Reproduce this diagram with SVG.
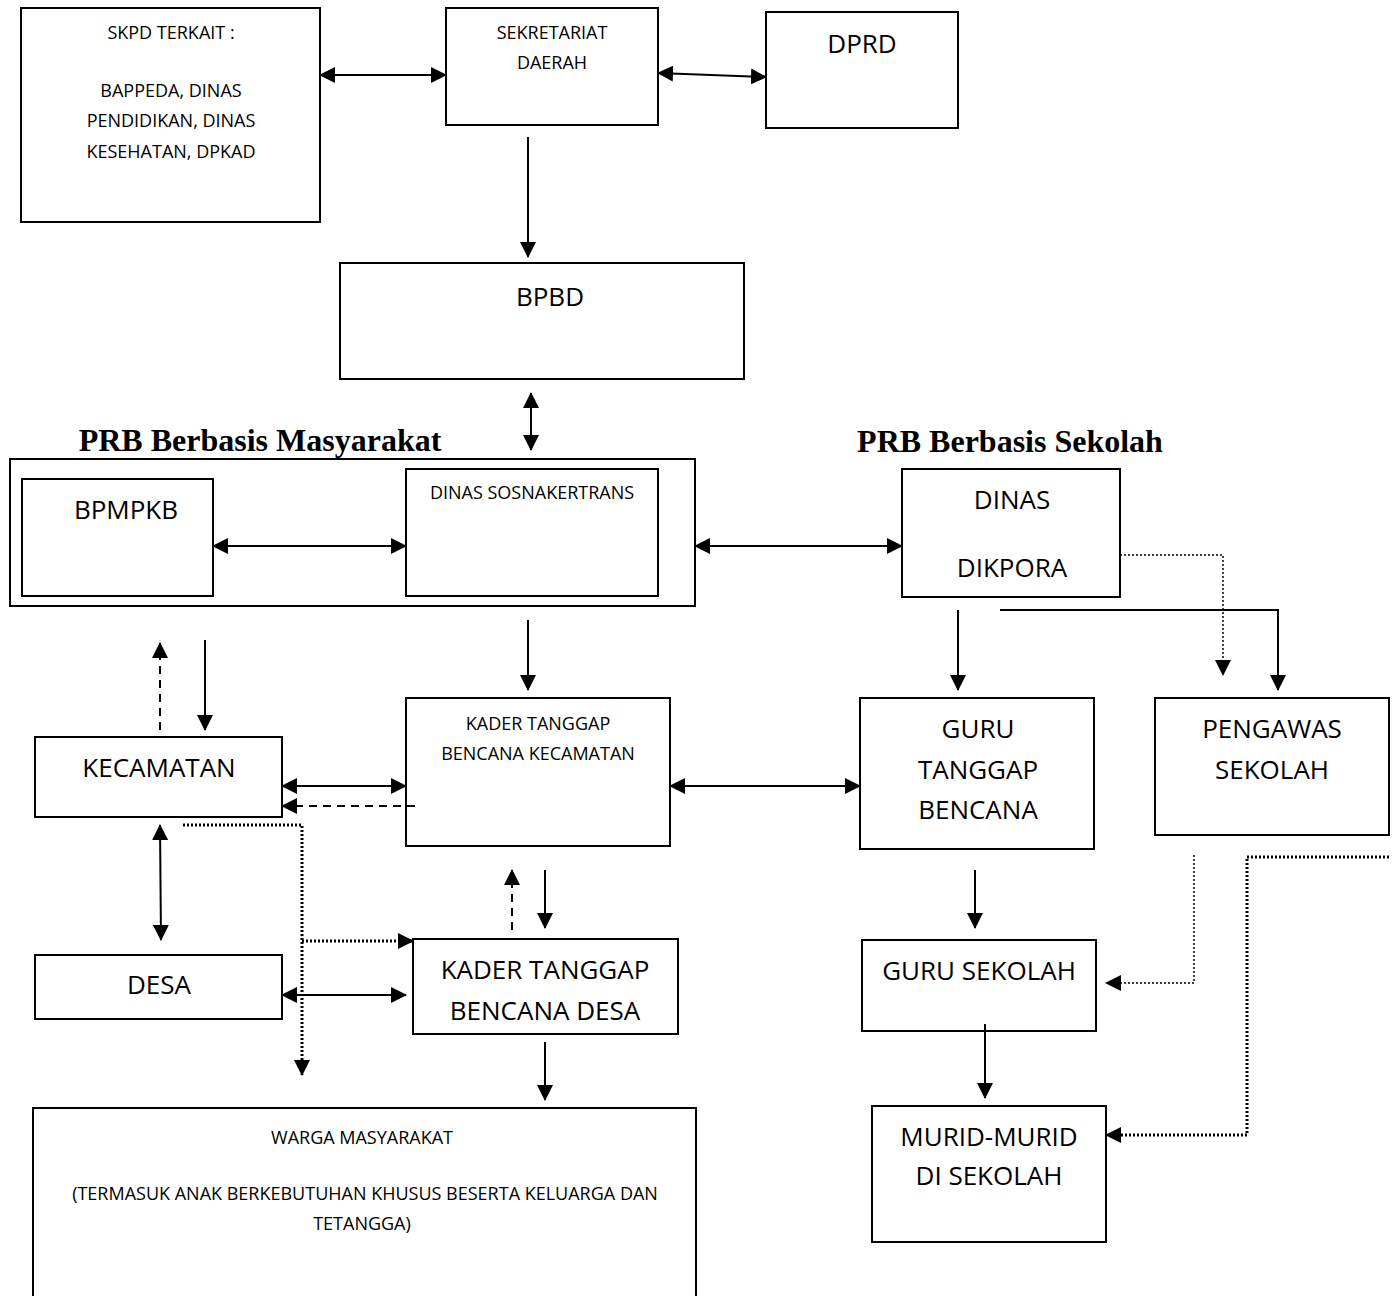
<svg xmlns="http://www.w3.org/2000/svg" width="1397" height="1296" viewBox="0 0 1397 1296">
<style>
.box{fill:#fff;stroke:#000;stroke-width:2}
.t{font-family:"Open Sans","Noto Sans",sans-serif;fill:#000;text-anchor:middle}
.s{font-size:18px}
.l{font-size:26px}
.h{font-family:"Liberation Serif",serif;font-weight:bold;font-size:32px;text-anchor:middle}
.ln{fill:none;stroke:#000;stroke-width:2}
.da{stroke-dasharray:8,6}
.dt{stroke-width:1.5;stroke-dasharray:2,2}
.dd{stroke-width:3;stroke-dasharray:2,2}
</style>
<defs>
<marker id="ah" markerUnits="userSpaceOnUse" markerWidth="16" markerHeight="16" viewBox="0 0 16 16" refX="15" refY="8" orient="auto-start-reverse">
<path d="M0,0 L16,8 L0,16 Z" fill="#000"/>
</marker>
</defs>
<rect width="1397" height="1296" fill="#fff"/>

<text class="h" x="260" y="451">PRB Berbasis Masyarakat</text>
<text class="h" x="1010" y="452">PRB Berbasis Sekolah</text>

<g id="group-masyarakat"><rect class="box" x="10" y="459" width="685" height="147"/></g>

<g id="skpd"><rect class="box" x="21" y="8" width="299" height="214"/>
<text class="t s" x="171" y="39">SKPD TERKAIT :</text>
<text class="t s" x="171" y="97">BAPPEDA, DINAS</text>
<text class="t s" x="171" y="127">PENDIDIKAN, DINAS</text>
<text class="t s" x="171" y="158">KESEHATAN, DPKAD</text></g>

<g id="sekretariat"><rect class="box" x="446" y="8" width="212" height="117"/>
<text class="t s" x="552" y="39">SEKRETARIAT</text>
<text class="t s" x="552" y="69">DAERAH</text></g>

<g id="dprd"><rect class="box" x="766" y="12" width="192" height="116"/>
<text class="t l" x="862" y="53">DPRD</text></g>

<g id="bpbd"><rect class="box" x="340" y="263" width="404" height="116"/>
<text class="t l" x="550" y="306">BPBD</text></g>

<g id="bpmpkb"><rect class="box" x="22" y="479" width="191" height="117"/>
<text class="t l" x="126" y="519">BPMPKB</text></g>

<g id="sosnakertrans"><rect class="box" x="406" y="469" width="252" height="127"/>
<text class="t s" x="532" y="499">DINAS SOSNAKERTRANS</text></g>

<g id="dikpora"><rect class="box" x="902" y="469" width="218" height="128"/>
<text class="t l" x="1012" y="509">DINAS</text>
<text class="t l" x="1012" y="577">DIKPORA</text></g>

<g id="kader-kecamatan"><rect class="box" x="406" y="698" width="264" height="148"/>
<text class="t s" x="538" y="730">KADER TANGGAP</text>
<text class="t s" x="538" y="760">BENCANA KECAMATAN</text></g>

<g id="kecamatan"><rect class="box" x="35" y="737" width="247" height="80"/>
<text class="t l" x="159" y="777">KECAMATAN</text></g>

<g id="guru-tanggap"><rect class="box" x="860" y="698" width="234" height="151"/>
<text class="t l" x="978" y="738">GURU</text>
<text class="t l" x="978" y="779">TANGGAP</text>
<text class="t l" x="978" y="819">BENCANA</text></g>

<g id="pengawas"><rect class="box" x="1155" y="698" width="234" height="137"/>
<text class="t l" x="1272" y="738">PENGAWAS</text>
<text class="t l" x="1272" y="779">SEKOLAH</text></g>

<g id="desa"><rect class="box" x="35" y="955" width="247" height="64"/>
<text class="t l" x="159" y="994">DESA</text></g>

<g id="kader-desa"><rect class="box" x="413" y="939" width="265" height="95"/>
<text class="t l" x="545" y="979">KADER TANGGAP</text>
<text class="t l" x="545" y="1020">BENCANA DESA</text></g>

<g id="guru-sekolah"><rect class="box" x="862" y="940" width="234" height="91"/>
<text class="t l" x="979" y="980">GURU SEKOLAH</text></g>

<g id="murid"><rect class="box" x="872" y="1106" width="234" height="136"/>
<text class="t l" x="989" y="1146">MURID-MURID</text>
<text class="t l" x="989" y="1185">DI SEKOLAH</text></g>

<g id="warga"><rect class="box" x="33" y="1108" width="663" height="200"/>
<text class="t s" x="362" y="1144">WARGA MASYARAKAT</text>
<text class="t s" x="365" y="1200">(TERMASUK ANAK BERKEBUTUHAN KHUSUS BESERTA KELUARGA DAN</text>
<text class="t s" x="362" y="1230">TETANGGA)</text></g>

<g id="connectors">
<path class="ln" d="M320,75 L446,75" marker-start="url(#ah)" marker-end="url(#ah)"/>
<path class="ln" d="M658,73 L766,77" marker-start="url(#ah)" marker-end="url(#ah)"/>
<path class="ln" d="M528,137 L528,257" marker-end="url(#ah)"/>
<path class="ln" d="M531,393 L531,450" marker-start="url(#ah)" marker-end="url(#ah)"/>
<path class="ln" d="M213,546 L406,546" marker-start="url(#ah)" marker-end="url(#ah)"/>
<path class="ln" d="M695,546 L902,546" marker-start="url(#ah)" marker-end="url(#ah)"/>
<path class="ln" d="M528,620 L528,690" marker-end="url(#ah)"/>
<path class="ln da" d="M160,730 L160,643" marker-end="url(#ah)"/>
<path class="ln" d="M205,640 L205,730" marker-end="url(#ah)"/>
<path class="ln" d="M282,786 L406,786" marker-start="url(#ah)" marker-end="url(#ah)"/>
<path class="ln da" d="M415,806 L282,806" marker-end="url(#ah)"/>
<path class="ln" d="M160,825 L161,940" marker-start="url(#ah)" marker-end="url(#ah)"/>
<path class="ln dd" d="M183,825 L302,825 L302,1075" marker-end="url(#ah)"/>
<path class="ln dd" d="M302,941 L413,941" marker-end="url(#ah)"/>
<path class="ln" d="M282,995 L406,995" marker-start="url(#ah)" marker-end="url(#ah)"/>
<path class="ln da" d="M512,930 L512,870" marker-end="url(#ah)"/>
<path class="ln" d="M545,870 L545,928" marker-end="url(#ah)"/>
<path class="ln" d="M545,1042 L545,1100" marker-end="url(#ah)"/>
<path class="ln" d="M670,786 L860,786" marker-start="url(#ah)" marker-end="url(#ah)"/>
<path class="ln" d="M958,610 L958,690" marker-end="url(#ah)"/>
<path class="ln" d="M1000,610 L1278,610 L1278,690" marker-end="url(#ah)"/>
<path class="ln dt" d="M1120,555 L1223,555 L1223,675" marker-end="url(#ah)"/>
<path class="ln" d="M975,870 L975,928" marker-end="url(#ah)"/>
<path class="ln" d="M985,1024 L985,1098" marker-end="url(#ah)"/>
<path class="ln dt" d="M1194,855 L1194,983 L1106,983" marker-end="url(#ah)"/>
<path class="ln dd" d="M1389,857 L1247,857 L1247,1135 L1106,1135" marker-end="url(#ah)"/>
</g>
</svg>
